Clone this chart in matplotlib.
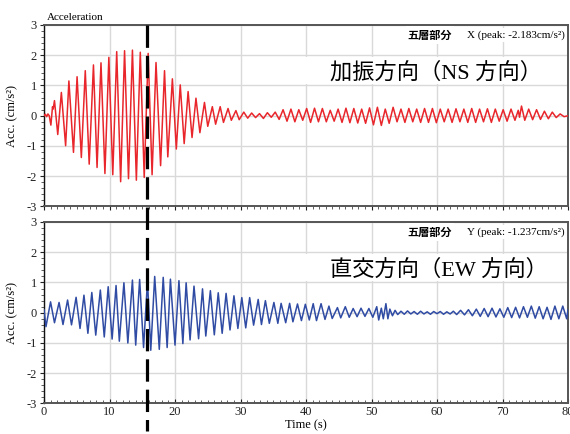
import matplotlib
matplotlib.use("Agg")
import matplotlib.pyplot as plt
import matplotlib.transforms as mtransforms
from matplotlib.lines import Line2D
from matplotlib.patches import Rectangle
from matplotlib.ticker import MultipleLocator

FONTS = ["Liberation Serif", "Noto Sans CJK JP", "DejaVu Sans"]
plt.rcParams["font.family"] = FONTS
plt.rcParams["axes.unicode_minus"] = False

# turning points of the X record (time s / acceleration cm/s2)
x_time = [
    0.0, 0.2, 0.4, 0.6, 0.8, 1.05, 1.3, 1.4, 1.6, 2.1,
    2.65, 3.3, 3.8, 4.5, 5.05, 5.7, 6.3, 6.9, 7.55, 8.1,
    8.7, 9.3, 9.9, 10.5, 11.1, 11.7, 12.3, 12.9, 13.5, 14.1,
    14.7, 15.3, 15.9, 16.5, 17.1, 17.8, 18.4, 18.9, 19.6, 20.2,
    20.8, 21.4, 22.0, 22.6, 23.2, 23.8, 24.5, 25.0, 25.7, 26.2,
    26.9, 27.4, 28.1, 28.6, 29.3, 29.8, 30.5, 31.1, 31.7, 32.3,
    32.9, 33.5, 34.1, 34.7, 35.3, 35.9, 36.5, 37.1, 37.7, 38.3,
    38.9, 39.5, 40.1, 40.7, 41.3, 41.9, 42.5, 43.1, 43.7, 44.3,
    44.9, 45.5, 46.1, 46.7, 47.3, 47.9, 48.5, 49.1, 49.7, 50.3,
    50.9, 51.5, 52.1, 52.7, 53.3, 53.9, 54.5, 55.1, 55.7, 56.3,
    56.9, 57.5, 58.1, 58.7, 59.3, 59.9, 60.5, 61.1, 61.7, 62.3,
    62.9, 63.5, 64.1, 64.7, 65.3, 65.9, 66.5, 67.1, 67.7, 68.3,
    68.9, 69.5, 70.1, 70.7, 71.3, 71.9, 72.4, 72.6, 72.9, 73.4,
    74.0, 74.6, 75.2, 75.8, 76.4, 77.0, 77.6, 78.2, 78.8, 79.4,
    80.0,
]
x_acc = [
    0.0, 0.05, -0.03, 0.06, 0.0, -0.31, 0.3, 0.22, 0.5, -0.62,
    0.77, -0.99, 1.15, -1.21, 1.29, -1.38, 1.49, -1.6, 1.68, -1.71,
    1.75, -1.91, 1.93, -1.95, 2.12, -2.18, 2.15, -2.08, 2.17, -2.13,
    2.1, -2.04, 2.06, -1.95, 1.76, -1.65, 1.49, -1.36, 1.22, -1.1,
    1.02, -0.92, 0.8, -0.72, 0.58, -0.56, 0.44, -0.35, 0.3, -0.28,
    0.3, -0.22, 0.24, -0.15, 0.17, -0.13, 0.12, -0.08, 0.09, -0.06,
    0.07, -0.09, 0.1, -0.05, 0.12, -0.12, 0.2, -0.18, 0.22, -0.2,
    0.2, -0.15, 0.24, -0.22, 0.25, -0.2, 0.24, -0.2, 0.18, -0.18,
    0.22, -0.22, 0.25, -0.23, 0.24, -0.24, 0.22, -0.25, 0.26, -0.3,
    0.28, -0.32, 0.22, -0.25, 0.28, -0.2, 0.22, -0.22, 0.24, -0.2,
    0.22, -0.22, 0.24, -0.22, 0.24, -0.23, 0.22, -0.2, 0.22, -0.22,
    0.23, -0.2, 0.22, -0.22, 0.24, -0.22, 0.22, -0.2, 0.23, -0.22,
    0.22, -0.18, 0.2, -0.18, 0.22, -0.15, 0.18, -0.05, 0.32, -0.15,
    0.22, -0.13, 0.2, -0.12, 0.15, -0.1, 0.12, -0.06, 0.06, -0.03,
    0.0,
]

# turning points of the Y record
y_time = [
    0.0, 0.3, 1.0, 1.6, 2.3, 2.9, 3.6, 4.2, 4.9, 5.5,
    6.1, 6.7, 7.3, 7.9, 8.6, 9.2, 9.8, 10.4, 11.0, 11.5,
    12.2, 12.8, 13.5, 14.0, 14.6, 15.2, 15.8, 16.3, 16.9, 17.6,
    18.2, 18.8, 19.3, 20.0, 20.6, 21.2, 21.7, 22.3, 22.9, 23.6,
    24.2, 24.7, 25.4, 26.0, 26.6, 27.2, 27.8, 28.4, 29.0, 29.6,
    30.2, 30.8, 31.4, 32.0, 32.7, 33.2, 33.8, 34.4, 35.1, 35.7,
    36.2, 36.9, 37.5, 38.0, 38.7, 39.3, 39.9, 40.5, 41.1, 41.6,
    42.3, 42.9, 43.5, 44.0, 44.8, 45.3, 46.0, 46.6, 47.2, 47.8,
    48.4, 49.0, 49.6, 50.2, 50.8, 51.1, 51.5, 51.8, 52.2, 52.5,
    52.8, 53.2, 53.6, 54.0, 54.5, 55.0, 55.5, 56.0, 56.5, 57.0,
    57.5, 58.0, 58.5, 59.0, 59.5, 60.0, 60.5, 61.0, 61.5, 62.0,
    62.5, 63.0, 63.6, 64.2, 64.8, 65.4, 66.0, 66.6, 67.2, 67.8,
    68.4, 69.0, 69.6, 70.2, 70.8, 71.4, 72.0, 72.6, 73.2, 73.8,
    74.4, 75.0, 75.6, 76.2, 76.8, 77.4, 78.0, 78.6, 79.2, 79.8,
    80.0,
]
y_acc = [
    0.1, -0.46, 0.36, -0.33, 0.34, -0.39, 0.42, -0.4, 0.51, -0.52,
    0.58, -0.68, 0.67, -0.74, 0.75, -0.8, 0.86, -0.87, 0.9, -0.94,
    0.99, -1.0, 1.08, -1.07, 1.1, -1.15, 1.05, -1.24, 1.2, -1.21,
    1.17, -1.15, 1.11, -1.07, 1.06, -1.02, 0.99, -0.9, 0.88, -0.86,
    0.79, -0.77, 0.73, -0.73, 0.66, -0.68, 0.64, -0.57, 0.56, -0.52,
    0.5, -0.5, 0.5, -0.41, 0.44, -0.39, 0.4, -0.35, 0.34, -0.35,
    0.31, -0.33, 0.31, -0.3, 0.29, -0.26, 0.28, -0.24, 0.3, -0.26,
    0.3, -0.22, 0.22, -0.19, 0.17, -0.17, 0.2, -0.15, 0.14, -0.13,
    0.15, -0.12, 0.14, -0.15, 0.2, -0.24, 0.15, -0.2, 0.3, -0.2,
    0.12, -0.1, 0.08, -0.06, 0.05, -0.05, 0.06, -0.04, 0.04, -0.05,
    0.05, -0.04, 0.03, -0.05, 0.04, -0.03, 0.04, -0.05, 0.03, -0.04,
    0.05, -0.06, 0.08, -0.07, 0.1, -0.1, 0.12, -0.12, 0.14, -0.13,
    0.15, -0.14, 0.13, -0.15, 0.17, -0.16, 0.18, -0.17, 0.2, -0.15,
    0.22, -0.18, 0.2, -0.2, 0.18, -0.22, 0.22, -0.2, 0.22, -0.2,
    0.1,
]

floor_label = "五層部分"
peak_labels = ["X (peak: -2.183cm/s²)", "Y (peak: -1.237cm/s²)"]
direction_labels = ["加振方向（NS 方向）", "直交方向（EW 方向）"]
line_colors = ["#e8262b", "#2f4ba3"]
marker_time = 15.8

fig = plt.figure(figsize=(5.70, 4.34), dpi=100)
ax_top = fig.add_axes([0.0772, 0.5242, 0.9193, 0.4182])
ax_bot = fig.add_axes([0.0772, 0.0703, 0.9193, 0.4182])

series = [(x_time, x_acc), (y_time, y_acc)]
for i, ax in enumerate([ax_top, ax_bot]):
    t, a = series[i]
    ax.plot(t, a, color=line_colors[i], lw=1.1, solid_joinstyle="round", zorder=3)
    ax.set_xlim(0, 80)
    ax.set_ylim(-3, 3)
    ax.xaxis.set_major_locator(MultipleLocator(10))
    ax.xaxis.set_minor_locator(MultipleLocator(1))
    ax.yaxis.set_major_locator(MultipleLocator(1))
    ax.yaxis.set_minor_locator(MultipleLocator(0.2))
    ax.grid(True, which="major", color="#d9d9d9", lw=1.0)
    ax.set_axisbelow(True)
    ax.tick_params(which="major", direction="out", length=3, width=0.8,
                   labelsize=9, pad=2, colors="#222222")
    ax.tick_params(which="minor", direction="out", length=2, width=0.6,
                   colors="#444444")
    for side in ["top", "bottom", "right"]:
        ax.spines[side].set_color("#555555")
        ax.spines[side].set_linewidth(1.4)
    ax.spines["left"].set_color("#111111")
    ax.spines["left"].set_linewidth(1.0)
    ax.set_ylabel("Acc. (cm/s²)", fontsize=9)
    ax.yaxis.set_label_coords(-0.05, 0.5)

    # header: floor + peak value
    ax.text(0.779, 0.945, floor_label, transform=ax.transAxes, ha="right",
            va="center", fontsize=8, fontweight="bold",
            family=["Noto Sans CJK JP"],
            bbox=dict(facecolor="white", edgecolor="none", pad=1.5))
    ax.text(0.994, 0.945, peak_labels[i], transform=ax.transAxes, ha="right",
            va="center", fontsize=8,
            bbox=dict(facecolor="white", edgecolor="none", pad=1.5))

    # direction label on a white panel
    ax.add_patch(Rectangle((38.8, 1.04), 38.5, 0.9, facecolor="white",
                           edgecolor="none", zorder=1.5))
    ax.text(0.546, 0.735, direction_labels[i], transform=ax.transAxes,
            ha="left", va="center", fontsize=16, zorder=4)

ax_top.tick_params(axis="x", labelbottom=False)
ax_bot.tick_params(axis="x", which="both", direction="in")
ax_top.text(0.005, 1.015, "Acceleration", transform=ax_top.transAxes,
            ha="left", va="bottom", fontsize=8)
ax_bot.set_xlabel("Time (s)", fontsize=9, labelpad=1)

# dashed marker running through both panels
trans = mtransforms.blended_transform_factory(ax_bot.transData, fig.transFigure)
fig.add_artist(Line2D([marker_time, marker_time], [0.942, 0.008], transform=trans,
                      color="black", lw=2.3, dashes=(7, 2.5), zorder=10))

fig.savefig("out.png", dpi=100)
